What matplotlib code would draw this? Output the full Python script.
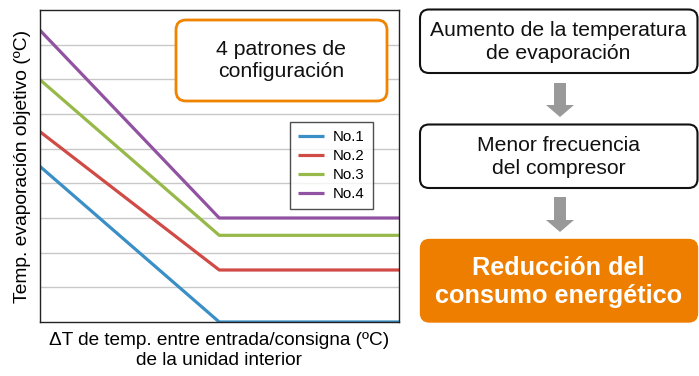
import matplotlib
matplotlib.use("Agg")
import matplotlib.pyplot as plt
from matplotlib.patches import FancyBboxPatch, FancyArrow

plt.rcParams['font.family'] = ['Liberation Sans', 'DejaVu Sans']

# Data
x_points = [0, 5, 10]
series_names = ["No.1", "No.2", "No.3", "No.4"]
no1 = [4.5, 0.0, 0.0]
no2 = [5.5, 1.5, 1.5]
no3 = [7.0, 2.5, 2.5]
no4 = [8.43, 3.0, 3.0]
colors = ["#3a8fc6", "#d04a46", "#96b94a", "#9152a2"]

W, H = 699, 376
fig = plt.figure(figsize=(W/100, H/100), dpi=100)

# chart axes
ax = fig.add_axes([39.5/W, (H-322)/H, 359.5/W, 312/H])
for vals, c, n in zip([no1, no2, no3, no4], colors, series_names):
    ax.plot(x_points, vals, color=c, lw=2.3, label=n, solid_capstyle='butt')
ax.set_xlim(0, 10)
ax.set_ylim(0, 9)
ax.set_yticks(range(1, 9))
ax.set_xticks([])
ax.tick_params(axis='y', length=0, labelleft=False)
ax.grid(axis='y', color='#c8c8c8', lw=1)
ax.set_axisbelow(True)
for s in ax.spines.values():
    s.set_color('#222222')
    s.set_linewidth(1)
leg = ax.legend(loc='upper left', bbox_to_anchor=((290-39.5)/359.5, (322-122)/312),
                frameon=True, fancybox=False, edgecolor='#222222', fontsize=10.8,
                handlelength=1.7, handletextpad=0.6, borderpad=0.55, labelspacing=0.33,
                borderaxespad=0)
leg.get_frame().set_linewidth(1)

ax.set_ylabel("Temp. evaporación objetivo (ºC)", fontsize=13.9, labelpad=6)
ax.set_xlabel("ΔT de temp. entre entrada/consigna (ºC)\nde la unidad interior",
              fontsize=13.7, labelpad=7, linespacing=1.25)

# overlay axes in pixel coordinates
ov = fig.add_axes([0, 0, 1, 1])
ov.set_xlim(0, W)
ov.set_ylim(H, 0)
ov.axis('off')

# orange outlined box in chart
ov.add_patch(FancyBboxPatch((176, 20), 211, 81, boxstyle="round,pad=0,rounding_size=10",
                            fc='white', ec='#f08300', lw=2))
ov.text(281.5, 60.5, "4 patrones de\nconfiguración", ha='center', va='center',
        fontsize=15.3, linespacing=1.2, color='#111111')

# right flow boxes
ov.add_patch(FancyBboxPatch((420, 9.5), 277.5, 63.5, boxstyle="round,pad=0,rounding_size=9",
                            fc='white', ec='#111111', lw=1.5))
ov.text(558.5, 42, "Aumento de la temperatura\nde evaporación", ha='center', va='center',
        fontsize=15.2, linespacing=1.3, color='#111111')

ov.add_patch(FancyBboxPatch((420, 124.5), 277.5, 63.5, boxstyle="round,pad=0,rounding_size=9",
                            fc='white', ec='#111111', lw=1.5))
ov.text(558.5, 157, "Menor frecuencia\ndel compresor", ha='center', va='center',
        fontsize=15.2, linespacing=1.3, color='#111111')

ov.add_patch(FancyBboxPatch((420.5, 239.5), 277, 82.5, boxstyle="round,pad=0,rounding_size=9",
                            fc='#ee7e00', ec='#ee7e00', lw=1))
ov.text(558.5, 282, "Reducción del\nconsumo energético", ha='center', va='center',
        fontsize=18.2, fontweight='bold', linespacing=1.25, color='white')

# arrows
for y0, y1 in [(83, 117), (197, 232)]:
    ov.add_patch(FancyArrow(560, y0, 0, (y1 - y0), width=12, head_width=28,
                            head_length=12, length_includes_head=True,
                            fc='#999999', ec='none'))

fig.savefig("out.png", dpi=100)
